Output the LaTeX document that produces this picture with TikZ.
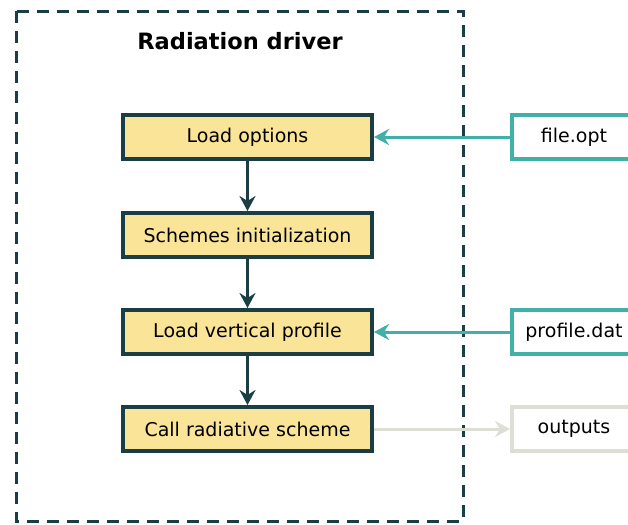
\documentclass[tikz,border=0pt]{standalone}
\usepackage{fontspec}
\setmainfont{DejaVu Sans}
\usetikzlibrary{arrows.meta}
\definecolor{darkteal}{HTML}{1A3E44}
\definecolor{lightteal}{HTML}{40B0A8}
\definecolor{paleyellow}{HTML}{F9E497}
\definecolor{palegrey}{HTML}{DDDFD4}

\begin{document}
\begin{tikzpicture}[x=1pt, y=-1pt,
    stage/.style={draw=darkteal, fill=paleyellow, line width=4pt,
        minimum width=249pt, minimum height=44pt, inner sep=0pt,
        font=\fontsize{19}{22}\selectfont},
    infile/.style={draw=lightteal, fill=white, line width=4pt,
        minimum width=124pt, minimum height=44pt, inner sep=0pt,
        font=\fontsize{19}{22}\selectfont},
    outfile/.style={infile, draw=palegrey},
    flow/.style={draw=darkteal, line width=3pt,
        -{Stealth[length=15pt, width=16pt, inset=5pt]}},
    feed/.style={flow, draw=lightteal},
    emit/.style={flow, draw=palegrey}]
    \useasboundingbox (0,0) rectangle (628,524);
    \begin{scope}
    \clip (0,0) rectangle (628,524);
    % frame of the driver
    \draw[darkteal, line width=3pt, dash pattern=on 12pt off 8pt]
        (16.5,11.5) rectangle (463,521);
    \node[font=\fontsize{22.5}{26}\selectfont\bfseries] (title) at (240,41) {Radiation driver};
    % steps
    \node[stage] (load) at (247.5,137) {Load options};
    \node[stage] (init) at (247.5,235) {Schemes initialization};
    \node[stage] (profile) at (247.5,332) {Load vertical profile};
    \node[stage] (call) at (247.5,429) {Call radiative scheme};
    % files
    \node[infile] (opt) at (574,137) {file.opt};
    \node[infile] (dat) at (574,332) {profile.dat};
    \node[outfile] (out) at (574,429) {outputs};
    % connectors
    \draw[flow] (load) -- (init);
    \draw[flow] (init) -- (profile);
    \draw[flow] (profile) -- (call);
    \draw[feed] (opt) -- (load);
    \draw[feed] (dat) -- (profile);
    \draw[emit] (call) -- (out);
    \end{scope}
\end{tikzpicture}
\end{document}
